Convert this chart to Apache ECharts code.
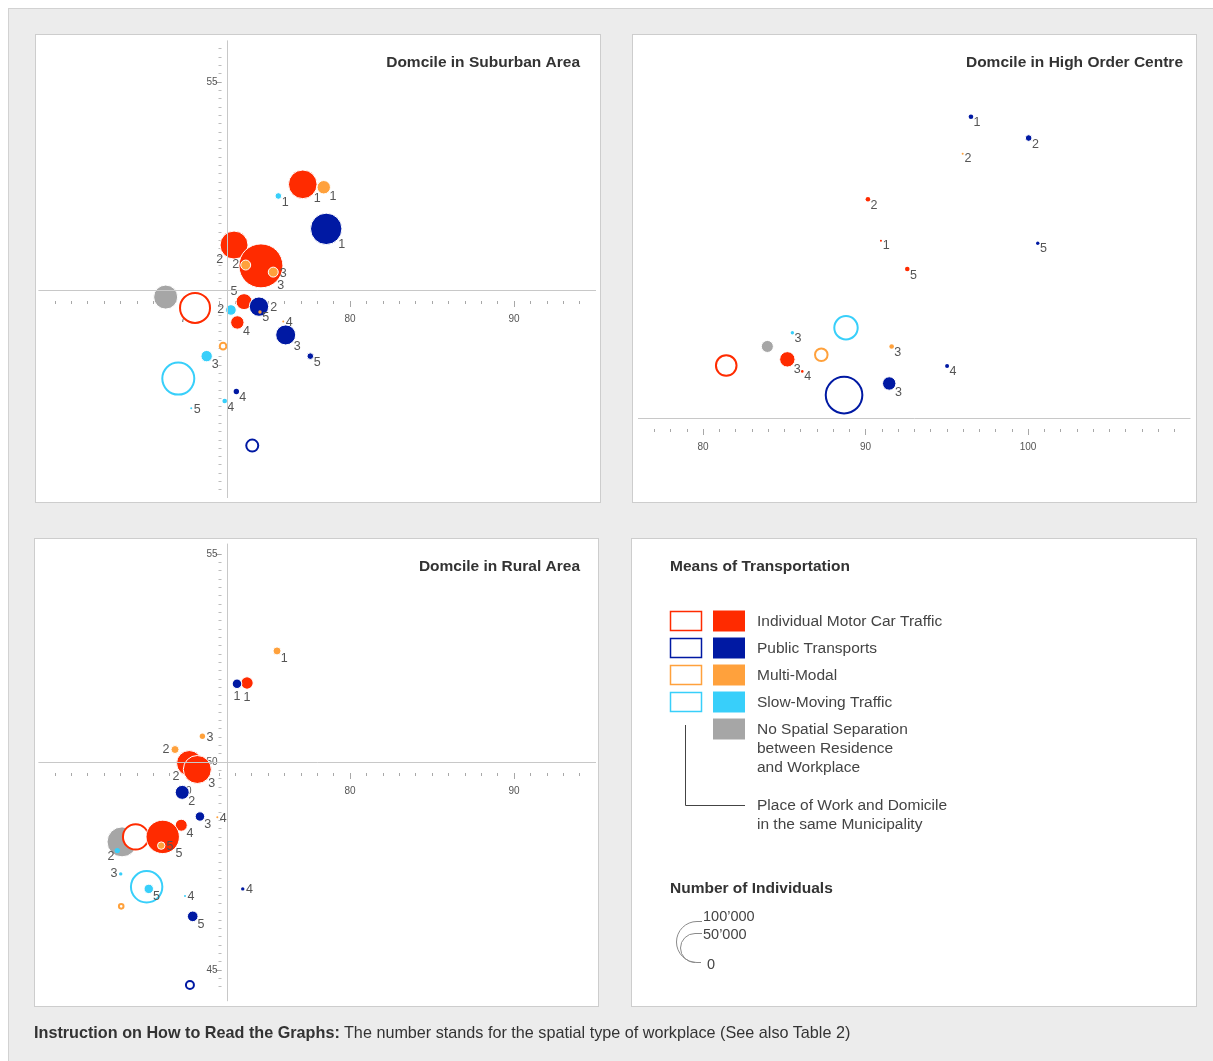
<!DOCTYPE html>
<html><head><meta charset="utf-8">
<script src="https://cdn.jsdelivr.net/npm/echarts@6/dist/echarts.min.js"></script>
<style>
html,body{margin:0;padding:0;background:#fff;}
#page{position:relative;width:1213px;height:1061px;overflow:hidden;font-family:"Liberation Sans",Arial,sans-serif;}
#frame{position:absolute;left:8px;top:8px;width:1205px;height:1053px;background:#ececec;border-left:1px solid #d2d2d2;border-top:1px solid #d2d2d2;box-sizing:border-box;}
.panel{position:absolute;background:#fff;border:1px solid #cdcdcd;box-sizing:border-box;}
#chart{position:absolute;left:0;top:0;width:1213px;height:1061px;}
#caption{position:absolute;left:34px;top:1023px;font-size:16.2px;color:#333;white-space:nowrap;}
</style></head>
<body><div id="page">
<div id="frame"></div>
<div class="panel" style="left:35px;top:34px;width:566px;height:469px"></div>
<div class="panel" style="left:632px;top:34px;width:565px;height:469px"></div>
<div class="panel" style="left:34px;top:538px;width:565px;height:469px"></div>
<div class="panel" style="left:631px;top:538px;width:566px;height:469px"></div>
<div id="chart"></div>
<div id="caption"><b>Instruction on How to Read the Graphs:</b> The number stands for the spatial type of workplace (See also Table 2)</div>
</div>
<script>
// ---------- DATA: [x, y, individuals, workplace type] ; "Local" = same municipality (hollow) ----------
const suburbanCar    = [[77.12,52.54,48700,1],[72.93,51.08,46600,2],[74.57,50.58,115000,3],[73.13,49.22,10700,4],[73.54,49.72,15200,5]];
const suburbanPublic = [[78.55,51.47,58700,1],[74.45,49.60,22400,2],[76.08,48.92,23800,3],[73.07,47.56,1700,4],[77.58,48.41,2600,5]];
const suburbanMulti  = [[78.40,52.47,10700,1],[73.64,50.60,5900,2],[75.32,50.43,5900,3],[75.93,49.24,240,4],[74.51,49.47,690,5]];
const suburbanSlow   = [[75.63,52.26,2600,1],[72.74,49.52,6700,2],[71.26,48.41,7700,3],[72.36,47.33,1260,4],[70.32,47.16,240,5]];
const suburbanCarLocal    = [[70.55,49.57,53500]];
const suburbanPublicLocal = [[74.04,46.26,8600]];
const suburbanMultiLocal  = [[72.26,48.65,2600]];
const suburbanSlowLocal   = [[69.53,47.87,60900]];
const suburbanNoSep       = [[68.76,49.83,34300]];

const centreCar    = [[90.95,54.26,150,1],[90.15,55.26,1260,2],[85.19,51.41,14100,3],[86.11,51.12,400,4],[92.57,53.58,1260,5]];
const centrePublic = [[96.49,57.24,1260,1],[100.04,56.73,2600,2],[91.46,50.83,10700,3],[95.02,51.25,950,4],[100.60,54.20,690,5]];
const centreMulti  = [[95.98,56.35,240,2],[91.61,51.72,1260,3]];
const centreSlow   = [[85.50,52.05,690,3]];
const centreCarLocal    = [[81.43,51.26,25200]];
const centrePublicLocal = [[88.68,50.55,79700]];
const centreMultiLocal  = [[87.28,51.52,9400]];
const centreSlowLocal   = [[88.80,52.17,32600]];
const centreNoSep       = [[83.96,51.72,8600]];

const ruralCar    = [[73.72,51.90,9100,1],[70.20,49.97,38400,2],[70.69,49.82,46600,3],[69.71,48.48,8600,4],[68.58,48.20,66400,5]];
const ruralPublic = [[73.11,51.88,5500,1],[69.77,49.27,11700,2],[70.85,48.69,5300,3],[73.46,46.95,690,4],[70.41,46.29,6700,5]];
const ruralMulti  = [[75.55,52.67,3800,1],[69.33,50.30,3800,2],[71.00,50.62,1700,3],[71.91,48.67,120,4],[68.49,47.99,3300,5]];
const ruralSlow   = [[65.81,47.87,1700,2],[66.02,47.31,690,3],[69.94,46.78,240,4],[67.73,46.95,5300,5]];
const ruralCarLocal    = [[66.93,48.20,38400]];
const ruralPublicLocal = [[70.24,44.64,3800]];
const ruralMultiLocal  = [[66.05,46.53,1260]];
const ruralSlowLocal   = [[67.60,47.00,58700]];
const ruralNoSep       = [[66.10,48.08,53500]];

const suburbanXTicks = [70,80,90];
const suburbanYTicks = [55];
const centreXTicks   = [80,90,100];
const ruralXTicks    = [70,80,90];
const ruralYTicks    = [55,50,45];

const modeNames = ['Individual Motor Car Traffic','Public Transports','Multi-Modal','Slow-Moving Traffic','No Spatial Separation\nbetween Residence\nand Workplace'];
const sizeLegend = [100000, 50000, 0];

// ---------- STYLE ----------
const FONT = '"Liberation Sans", Arial, sans-serif';
const COLORS = {car:'#ff2b00', public:'#0019a3', multi:'#ffa13c', slow:'#38cffa', nosep:'#a6a6a6'};
const labelSpots = {
  'suburban-car-2':'bl','suburban-car-5':'tl','suburban-multi-2':'l','suburban-multi-3':'r','suburban-public-2':'r',
  'suburban-slow-2':'l','suburban-multi-4':'r','suburban-slow-5':'r',
  'rural-car-1':'b','rural-public-1':'b','rural-multi-3':'r','rural-multi-2':'l','rural-car-2':'bl','rural-multi-4':'r',
  'rural-multi-5':'r','rural-slow-2':'bl','rural-slow-3':'l','rural-slow-4':'r','rural-public-4':'r'
};
const sizeOf = n => Math.max(2, 41 * Math.sqrt(n / 100000));
function offsetFor(spot, r) {
  const k = 0.7 * r + 4.5;
  switch (spot) {
    case 'bl': return [-k, k];
    case 'tl': return [-k, -k];
    case 'l': return [-(r + 5), 0];
    case 'r': return [r + 5, 1];
    case 'b': return [0, r + 8];
    default: return [k, k];
  }
}

const panels = [
  {key:'suburban', title:'Domcile in Suburban Area', titleX:580, titleY:61,
   left:38.4, top:40.4, width:557.6, height:457.6, x0:61, x1:95, y0:45, y1:56,
   xTicks:suburbanXTicks, yTicks:suburbanYTicks, showY:true,
   sets:{car:[suburbanCar,suburbanCarLocal], public:[suburbanPublic,suburbanPublicLocal], multi:[suburbanMulti,suburbanMultiLocal], slow:[suburbanSlow,suburbanSlowLocal], nosep:suburbanNoSep}},
  {key:'centre', title:'Domcile in High Order Centre', titleX:1183, titleY:61,
   left:638, top:43.6, width:552.5, height:457.6, x0:76, x1:110, y0:48, y1:59,
   xTicks:centreXTicks, yTicks:[], showY:false,
   sets:{car:[centreCar,centreCarLocal], public:[centrePublic,centrePublicLocal], multi:[centreMulti,centreMultiLocal], slow:[centreSlow,centreSlowLocal], nosep:centreNoSep}},
  {key:'rural', title:'Domcile in Rural Area', titleX:580, titleY:565,
   left:38.4, top:543.6, width:557.6, height:457.6, x0:61, x1:95, y0:44.25, y1:55.25,
   xTicks:ruralXTicks, yTicks:ruralYTicks, showY:true,
   sets:{car:[ruralCar,ruralCarLocal], public:[ruralPublic,ruralPublicLocal], multi:[ruralMulti,ruralMultiLocal], slow:[ruralSlow,ruralSlowLocal], nosep:ruralNoSep}}
];

const grids = [], xAxes = [], yAxes = [], series = [], graphics = [];
const tickLine = {color:'#a8a8a8', width:1};
const modes = ['car','public','multi','slow'];

panels.forEach((p, gi) => {
  grids.push({left:p.left, top:p.top, width:p.width, height:p.height, containLabel:false, show:false});
  const ppuX = p.width / (p.x1 - p.x0), ppuY = p.height / (p.y1 - p.y0);
  const axisY = p.top + (p.y1 - 50) * ppuY + 11;
  const xOff = axisY - (p.top + p.height);
  const axisX = p.left + (72.5 - p.x0) * ppuX - 5.5;
  const yOff = p.left - axisX;
  const xMinor = []; for (let v = Math.ceil(p.x0) + 1; v < p.x1; v++) xMinor.push(v);
  const yMinor = []; for (let k = Math.ceil(p.y0 * 5) + 1; k < p.y1 * 5 - 0.5; k++) yMinor.push(Math.round(k * 2) / 10);
  const xc = {gridIndex:gi, type:'value', min:p.x0, max:p.x1, position:'bottom', offset:xOff,
    axisLine:{show:false, onZero:false}, splitLine:{show:false}, silent:true};
  xAxes.push(Object.assign({}, xc, {axisTick:{show:true, length:3, lineStyle:tickLine, customValues:xMinor}, axisLabel:{show:false}}));
  xAxes.push(Object.assign({}, xc, {axisTick:{show:true, length:6, lineStyle:tickLine, customValues:p.xTicks},
    axisLabel:{show:true, customValues:p.xTicks, margin:13, color:'#555', fontSize:10, fontFamily:FONT}}));
  const yc = {gridIndex:gi, type:'value', min:p.y0, max:p.y1, position:'left', offset:yOff, show:p.showY,
    axisLine:{show:false, onZero:false}, splitLine:{show:false}, silent:true};
  yAxes.push(Object.assign({}, yc, {axisTick:{show:true, length:3, lineStyle:{color:'#bdbdbd', width:1}, customValues:yMinor}, axisLabel:{show:false}}));
  yAxes.push(Object.assign({}, yc, {axisTick:{show:true, length:6, lineStyle:tickLine, customValues:p.yTicks.length ? p.yTicks : [p.y1]},
    axisLabel:{show:true, customValues:p.yTicks.length ? p.yTicks : [p.y1], margin:4, color:'#555', fontSize:10, fontFamily:FONT}}));
  const xi = gi * 2 + 1, yi = gi * 2 + 1;

  // cross lines
  const lines = [{yAxis:50}];
  if (72.5 > p.x0 && 72.5 < p.x1) lines.push({xAxis:72.5});
  series.push({type:'scatter', xAxisIndex:xi, yAxisIndex:yi, data:[], silent:true, z:1,
    markLine:{silent:true, symbol:['none','none'], label:{show:false}, animation:false,
      lineStyle:{color:'#c8c8c8', width:1, type:'solid'}, emphasis:{disabled:true}, data:lines}});

  const base = {type:'scatter', xAxisIndex:xi, yAxisIndex:yi, symbol:'circle', silent:true, z:2,
    symbolSize: v => sizeOf(v[2]), emphasis:{disabled:true}, animation:false};

  // no spatial separation
  series.push(Object.assign({}, base, {name:p.key + '-nosep',
    data:p.sets.nosep.map(r => ({value:[r[0], r[1], r[2]]})),
    itemStyle:{color:COLORS.nosep, borderColor:'#fff', borderWidth:1, opacity:1}, label:{show:false}}));
  // same municipality (hollow)
  modes.forEach(m => {
    series.push(Object.assign({}, base, {name:p.key + '-' + m + '-local',
      data:p.sets[m][1].map(r => ({value:[r[0], r[1], r[2]]})),
      itemStyle:{color:'#fff', borderColor:COLORS[m], borderWidth:2, opacity:1}, label:{show:false}}));
  });
  // different municipality (filled, labelled with workplace type)
  modes.forEach(m => {
    series.push(Object.assign({}, base, {name:p.key + '-' + m,
      data:p.sets[m][0].map(r => {
        const d = sizeOf(r[2]);
        const spot = labelSpots[p.key + '-' + m + '-' + r[3]] || 'br';
        const it = {value:[r[0], r[1], r[2]], wt:String(r[3]), label:{offset:offsetFor(spot, d / 2)}};
        if (d < 6) it.itemStyle = {borderWidth:0};
        return it;
      }),
      itemStyle:{color:COLORS[m], borderColor:'#fff', borderWidth:1, opacity:1},
      label:{show:true, position:'inside', formatter:q => q.data.wt, color:'#555', fontSize:12.5,
        fontFamily:FONT, textBorderWidth:0, align:'center', verticalAlign:'middle'}}));
  });

  graphics.push({type:'text', x:p.titleX, y:p.titleY + 1.5, silent:true,
    style:{text:p.title, align:'right', verticalAlign:'middle', font:'bold 15.5px ' + FONT, fill:'#333'}});
});

// ---------- LEGEND PANEL ----------
const legFont = '15.5px ' + FONT;
graphics.push({type:'text', x:670, y:566.5, silent:true, style:{text:'Means of Transportation', verticalAlign:'middle', font:'bold 15.5px ' + FONT, fill:'#333'}});
['car','public','multi','slow','nosep'].forEach((m, i) => {
  const yc = 621 + 27 * i;
  if (m !== 'nosep') {
    graphics.push({type:'rect', silent:true, shape:{x:670.5, y:yc - 9.5, width:31, height:19},
      style:{fill:'#fff', stroke:COLORS[m], lineWidth:1.5}});
  }
  graphics.push({type:'rect', silent:true, shape:{x:713, y:yc - 10.5, width:32, height:21}, style:{fill:COLORS[m]}});
  graphics.push({type:'text', x:757, y:yc - 8.5, silent:true,
    style:{text:modeNames[i], verticalAlign:'top', font:legFont, fill:'#444', lineHeight:19}});
});
graphics.push({type:'polyline', silent:true, shape:{points:[[685.5,725],[685.5,805.5],[745,805.5]]}, style:{stroke:'#444', lineWidth:1, fill:null}});
graphics.push({type:'text', x:757, y:796.5, silent:true,
  style:{text:'Place of Work and Domicile\nin the same Municipality', verticalAlign:'top', font:legFont, fill:'#444', lineHeight:19}});
graphics.push({type:'text', x:670, y:888.5, silent:true, style:{text:'Number of Individuals', verticalAlign:'middle', font:'bold 15.5px ' + FONT, fill:'#333'}});

// size legend arcs (sized with the same scale as the bubbles)
const legBottom = 962.5;
const legLabelY = [917, 935, 965];
sizeLegend.forEach((n, i) => {
  const r = sizeOf(n) / 2;
  const cx = 697 - (i === 1 ? 2 : 0);
  if (n > 0) {
    graphics.push({type:'arc', silent:true, shape:{cx:cx, cy:legBottom - r, r:r, startAngle:Math.PI / 2, endAngle:Math.PI * 1.5, clockwise:true},
      style:{stroke:'#8a8a8a', lineWidth:1, fill:null}});
    graphics.push({type:'line', silent:true, shape:{x1:cx, y1:legBottom - 2 * r, x2:702, y2:legBottom - 2 * r}, style:{stroke:'#8a8a8a', lineWidth:1}});
  }
  graphics.push({type:'text', x:n > 0 ? 703 : 707, y:legLabelY[i], silent:true,
    style:{text:n > 0 ? (n / 1000) + '\u2019000' : '0', verticalAlign:'middle', font:'14.5px ' + FONT, fill:'#444'}});
});
graphics.push({type:'line', silent:true, shape:{x1:697, y1:legBottom, x2:701, y2:legBottom}, style:{stroke:'#8a8a8a', lineWidth:1}});

const chart = echarts.init(document.getElementById('chart'), null, {renderer:'canvas'});
chart.setOption({
  animation:false,
  backgroundColor:'transparent',
  grid:grids, xAxis:xAxes, yAxis:yAxes, series:series,
  graphic:{elements:graphics}
});
</script>
</body></html>
